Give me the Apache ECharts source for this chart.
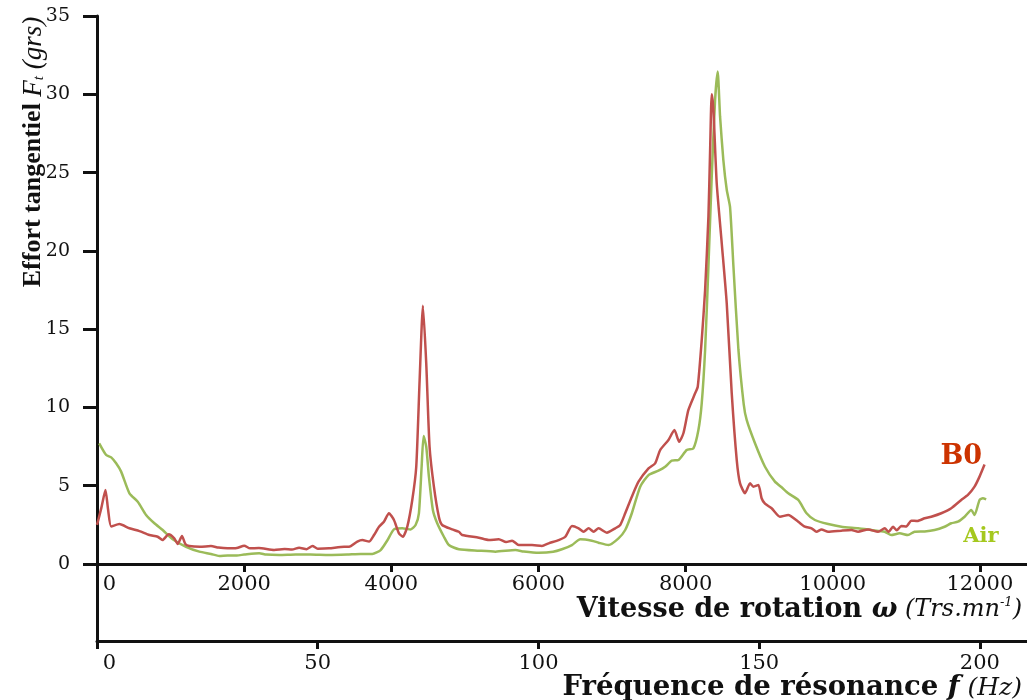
<!DOCTYPE html>
<html>
<head>
<meta charset="utf-8">
<script src="https://cdn.jsdelivr.net/npm/echarts@6/dist/echarts.min.js"></script>
<style>
html,body{margin:0;padding:0;background:#fff;}
#chart{width:1027px;height:700px;}
</style>
</head>
<body>
<div id="chart"></div>
<script>
// Rotation speed (Trs/mn) and tangential force (grs) — series B0
const rpmB0 = [0,60,115,150,193,305,441,577,712,825,890,975,1050,1097,1155,1200,1255,1400,1549,1650,1774,1900,2001,2080,2200,2408,2550,2650,2747,2850,2928,3000,3154,3358,3426,3538,3606,3697,3765,3833,3900,3968,4036,4104,4158,4217,4285,4339,4385,4430,4475,4520,4579,4647,4691,4827,4918,4963,5189,5325,5461,5560,5641,5732,5912,6048,6139,6275,6365,6456,6546,6614,6682,6750,6817,6930,7044,7111,7179,7269,7360,7496,7586,7654,7767,7848,7912,7970,8038,8129,8165,8219,8265,8310,8333,8355,8378,8423,8491,8559,8627,8695,8740,8808,8876,8921,8989,9033,9079,9169,9282,9395,9531,9621,9712,9779,9847,9938,10118,10254,10344,10480,10616,10706,10760,10819,10870,10932,11000,11068,11150,11249,11339,11475,11611,11746,11837,11927,11995,12063];
const forceB0 = [2.5,3.6,4.73,3.5,2.4,2.55,2.28,2.1,1.85,1.74,1.53,1.9,1.64,1.28,1.79,1.28,1.15,1.1,1.15,1.05,1.0,1.02,1.17,1.0,1.02,0.9,0.96,0.92,1.04,0.95,1.15,0.98,1.0,1.1,1.1,1.43,1.53,1.43,1.85,2.38,2.7,3.24,2.81,1.96,1.74,2.38,4.09,6.21,11.75,16.5,12.8,7.49,4.94,3.0,2.49,2.21,2.06,1.85,1.68,1.53,1.58,1.4,1.49,1.21,1.21,1.15,1.32,1.53,1.74,2.43,2.28,2.06,2.28,2.06,2.28,2.0,2.28,2.49,3.24,4.3,5.26,6.11,6.43,7.28,7.92,8.56,7.81,8.35,9.84,10.9,11.32,14.3,17.5,22.18,26.4,30.0,29.0,24.3,20.5,16.65,10.9,6.64,5.15,4.52,5.15,4.94,5.05,4.2,3.85,3.56,3.02,3.13,2.7,2.38,2.28,2.06,2.21,2.06,2.13,2.17,2.06,2.21,2.06,2.28,2.05,2.38,2.15,2.43,2.4,2.77,2.75,2.92,3.02,3.24,3.56,4.09,4.41,4.94,5.58,6.35];

// Series Air
const rpmAir = [30,125,193,260,328,441,554,667,780,893,1029,1210,1391,1549,1662,1775,1900,2000,2205,2300,2476,2700,2900,3154,3400,3584,3742,3855,3945,4036,4149,4262,4330,4375,4412,4439,4475,4511,4565,4624,4715,4782,4918,5190,5416,5687,5800,6003,6200,6319,6455,6568,6726,6817,6953,7088,7179,7269,7383,7496,7631,7722,7812,7903,8015,8106,8174,8219,8265,8310,8355,8400,8436,8468,8513,8559,8604,8650,8718,8790,8830,8943,9079,9214,9305,9395,9531,9644,9757,9938,10118,10344,10525,10706,10796,10909,11022,11112,11250,11384,11520,11611,11701,11792,11882,11927,11995,12040,12085];
const forceAir = [7.71,6.96,6.81,6.43,5.9,4.51,3.98,3.13,2.6,2.17,1.58,1.1,0.79,0.64,0.51,0.55,0.55,0.6,0.68,0.6,0.57,0.6,0.6,0.57,0.6,0.64,0.64,0.89,1.5,2.21,2.28,2.21,2.49,3.24,6.21,8.17,7.49,5.58,3.45,2.6,1.74,1.21,0.94,0.85,0.79,0.89,0.8,0.72,0.78,0.94,1.21,1.58,1.49,1.36,1.21,1.64,2.17,3.24,4.94,5.68,5.96,6.21,6.6,6.64,7.28,7.39,8.56,10.26,13.67,18.99,24.74,29.6,31.45,28.6,25.8,23.9,22.8,19.0,13.67,10.2,9.2,7.71,6.21,5.26,4.9,4.52,4.09,3.24,2.81,2.55,2.38,2.28,2.17,2.06,1.85,1.96,1.85,2.06,2.08,2.17,2.38,2.6,2.7,3.02,3.45,3.13,4.09,4.2,4.13];

// Tick labels
const rpmTicks = [0,2000,4000,6000,8000,10000,12000];
const freqTicks = [0,50,100,150,200];
const forceTicks = [0,5,10,15,20,25,30,35];

const seriesNames = ['B0','Air'];

const RPM_MAX = 12640;
const FREQ_MAX = RPM_MAX / 60;

const zip = (a, b) => a.map((v, i) => [v, b[i]]);

const serif = 'DejaVu Serif';
const times = 'Liberation Serif';
const black = '#111';

const chart = echarts.init(document.getElementById('chart'), null, {renderer: 'canvas'});

const zeroShift = (fs) => ({
  formatter: v => v === 0 ? '{z|0}' : String(v),
  rich: { z: { fontFamily: serif, fontSize: fs, color: black, padding: [0, 0, 0, 25] } }
});

chart.setOption({
  animation: false,
  backgroundColor: '#fff',
  grid: [
    { left: 97, right: 0, top: 16, height: 548, containLabel: false, outerBoundsMode: 'none' },
    { left: 97, right: 0, top: 564, height: 77, containLabel: false, outerBoundsMode: 'none' }
  ],
  xAxis: [
    {
      type: 'value', gridIndex: 0, min: 0, max: RPM_MAX, position: 'bottom',
      splitLine: { show: false },
      axisLine: { lineStyle: { color: black, width: 3 } },
      axisTick: { show: true, length: 8, lineStyle: { color: black, width: 3 }, customValues: rpmTicks },
      axisLabel: Object.assign({
        customValues: rpmTicks, fontFamily: serif, fontSize: 21, color: black, margin: 10
      }, zeroShift(21)),
      name: '{b|Vitesse de rotation }{w|ω}{i| (Trs.mn}{s|-1}{i|)}',
      nameLocation: 'end', nameGap: -5, nameMoveOverlap: false,
      nameTextStyle: {
        align: 'right', verticalAlign: 'top', padding: [32, 0, 0, 0],
        rich: {
          b: { fontFamily: serif, fontWeight: 'bold', fontSize: 27, color: black },
          w: { fontFamily: serif, fontWeight: 'bold', fontStyle: 'italic', fontSize: 27, color: black },
          i: { fontFamily: serif, fontStyle: 'italic', fontSize: 24, color: black },
          s: { fontFamily: serif, fontStyle: 'italic', fontSize: 13, color: black, verticalAlign: 'top' }
        }
      }
    },
    {
      type: 'value', gridIndex: 1, min: 0, max: FREQ_MAX, position: 'bottom',
      splitLine: { show: false },
      axisLine: { lineStyle: { color: black, width: 3 } },
      axisTick: { show: true, length: 8, lineStyle: { color: black, width: 3 }, customValues: freqTicks },
      axisLabel: Object.assign({
        customValues: freqTicks, fontFamily: serif, fontSize: 21, color: black, margin: 12
      }, zeroShift(21)),
      name: '{b|Fréquence de résonance }{w|f}{i| (Hz)}',
      nameLocation: 'end', nameGap: -5, nameMoveOverlap: false,
      nameTextStyle: {
        align: 'right', verticalAlign: 'top', padding: [33, 0, 0, 0],
        rich: {
          b: { fontFamily: serif, fontWeight: 'bold', fontSize: 27.5, color: black },
          w: { fontFamily: serif, fontWeight: 'bold', fontStyle: 'italic', fontSize: 27.5, color: black },
          i: { fontFamily: serif, fontStyle: 'italic', fontSize: 25, color: black }
        }
      }
    }
  ],
  yAxis: [
    {
      type: 'value', gridIndex: 0, min: 0, max: 35, interval: 5,
      splitLine: { show: false },
      axisLine: { show: true, lineStyle: { color: black, width: 3 } },
      axisTick: { show: true, length: 14, lineStyle: { color: black, width: 3 } },
      axisLabel: { fontFamily: serif, fontSize: 19, color: black, margin: 27 },
      name: '{b|Effort tangentiel }{f|F}{t|t}{g| (grs)}',
      nameLocation: 'middle', nameGap: 50, nameMoveOverlap: false,
      nameTextStyle: {
        padding: [0, 0, 0, 276],
        rich: {
          b: { fontFamily: times, fontWeight: 'bold', fontSize: 26, color: black },
          f: { fontFamily: times, fontStyle: 'italic', fontSize: 27, color: black },
          t: { fontFamily: times, fontStyle: 'italic', fontSize: 15, color: black, verticalAlign: 'bottom' },
          g: { fontFamily: times, fontStyle: 'italic', fontSize: 27, color: black }
        }
      }
    },
    {
      type: 'value', gridIndex: 1, min: 0, max: 1,
      splitLine: { show: false },
      axisLine: { show: true, lineStyle: { color: black, width: 3 } },
      axisTick: { show: false },
      axisLabel: { show: false }
    }
  ],
  series: [
    {
      name: seriesNames[0], type: 'line', xAxisIndex: 0, yAxisIndex: 0,
      data: zip(rpmB0, forceB0), showSymbol: false, smooth: 0.2,
      lineStyle: { color: '#c0504d', width: 2.5 },
      itemStyle: { color: '#c0504d' },
      endLabel: {
        show: true, formatter: '{a}', offset: [-52, -8],
        fontFamily: serif, fontWeight: 'bold', fontSize: 27, color: '#cc3300'
      },
      z: 3
    },
    {
      name: seriesNames[1], type: 'line', xAxisIndex: 0, yAxisIndex: 0,
      data: zip(rpmAir, forceAir), showSymbol: false, smooth: 0.2,
      lineStyle: { color: '#9bbb59', width: 2.5 },
      itemStyle: { color: '#9bbb59' },
      endLabel: {
        show: true, formatter: '{a}', offset: [-31, 37],
        fontFamily: serif, fontWeight: 'bold', fontSize: 21, color: '#a5c81e'
      },
      z: 2
    }
  ]
});
</script>
</body>
</html>
